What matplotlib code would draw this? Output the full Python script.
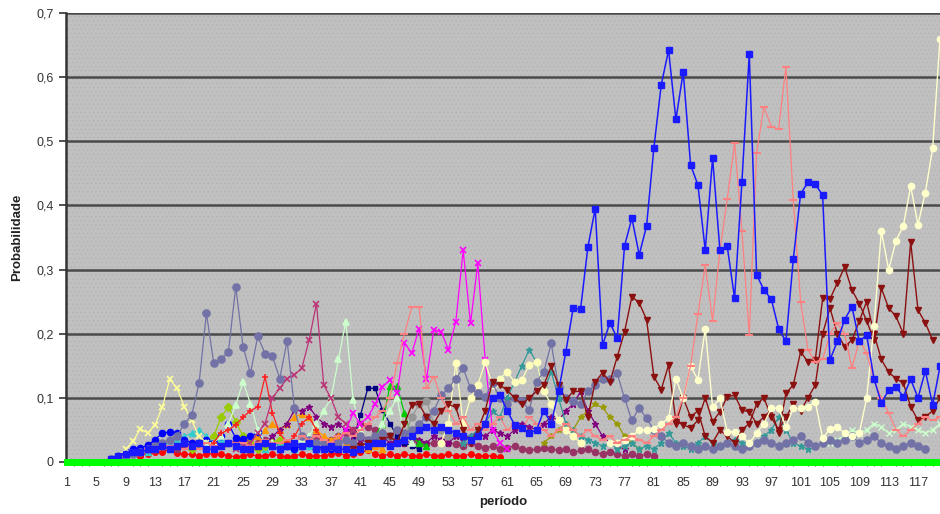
import numpy as np
import matplotlib.pyplot as plt
from matplotlib.patches import Rectangle

plt.rcParams['font.family'] = ['Liberation Sans', 'DejaVu Sans']
plt.rcParams['hatch.linewidth'] = 0.4

# x categories (periods) and tick labels
periodos = np.arange(1, 121)
ticks_x = list(range(1, 118, 4))
ticks_y = [0, 0.1, 0.2, 0.3, 0.4, 0.5, 0.6, 0.7]
rotulos_y = ['0', '0,1', '0,2', '0,3', '0,4', '0,5', '0,6', '0,7']

# each series: first period + values from there on
azul_ini = 7
azul = [0.005, 0.01, 0.012, 0.015, 0.015, 0.02, 0.02, 0.025, 0.02, 0.025, 0.03, 0.025, 0.03, 0.02,
        0.02, 0.025, 0.03, 0.025, 0.02, 0.02, 0.025, 0.03, 0.025, 0.02, 0.025, 0.03, 0.025, 0.03,
        0.02, 0.02, 0.025, 0.02, 0.02, 0.015, 0.02, 0.025, 0.03, 0.03, 0.025, 0.03, 0.035, 0.04,
        0.05, 0.055, 0.05, 0.055, 0.05, 0.045, 0.04, 0.035,
        0.04, 0.06, 0.10, 0.105, 0.08, 0.058, 0.053, 0.045, 0.05, 0.08, 0.06, 0.11, 0.172, 0.24,
        0.238, 0.335, 0.395, 0.182, 0.217, 0.193, 0.337, 0.38, 0.323, 0.368, 0.49, 0.588, 0.642,
        0.534, 0.608, 0.463, 0.432, 0.33, 0.474, 0.33, 0.336, 0.255, 0.437, 0.636, 0.292, 0.268,
        0.254, 0.208, 0.188, 0.316, 0.418, 0.436, 0.433, 0.416, 0.159, 0.188, 0.222, 0.242, 0.188,
        0.198, 0.13, 0.092, 0.112, 0.117, 0.102, 0.129, 0.10, 0.142, 0.089, 0.149]

salmao_ini = 7
salmao = [0.005, 0.008, 0.01, 0.012, 0.015, 0.02, 0.018, 0.02, 0.025, 0.02, 0.02, 0.025, 0.02,
          0.03, 0.025, 0.02, 0.025, 0.03, 0.03, 0.025, 0.03, 0.035, 0.03, 0.03, 0.035, 0.03, 0.04,
          0.035, 0.04, 0.035, 0.03, 0.04, 0.045, 0.04, 0.05, 0.06, 0.07, 0.08, 0.10, 0.154, 0.2,
          0.242, 0.242, 0.115, 0.133, 0.10, 0.08, 0.06, 0.07, 0.05, 0.06, 0.05, 0.06, 0.07, 0.05,
          0.06, 0.05, 0.07, 0.06, 0.05, 0.04, 0.05, 0.06, 0.05, 0.04, 0.05, 0.04, 0.035, 0.04,
          0.03, 0.035, 0.04, 0.035, 0.03, 0.04, 0.05,
          0.06, 0.07, 0.10, 0.15, 0.23, 0.307, 0.22, 0.33, 0.41, 0.498, 0.36, 0.198, 0.482, 0.554,
          0.523, 0.519, 0.616, 0.408, 0.25, 0.175, 0.156, 0.16, 0.2, 0.216, 0.2, 0.146, 0.19, 0.17,
          0.128, 0.10, 0.076, 0.05, 0.04, 0.05, 0.06, 0.07, 0.065, 0.07]

vinho_ini = 40
vinho = [0.02, 0.025, 0.03, 0.03, 0.035, 0.04, 0.03, 0.06, 0.089, 0.09, 0.07, 0.06, 0.08, 0.09,
         0.085, 0.05, 0.03, 0.05, 0.08, 0.125, 0.12, 0.112, 0.10, 0.09, 0.10, 0.11, 0.12, 0.149,
         0.12, 0.097, 0.11, 0.11, 0.07, 0.125, 0.139, 0.125, 0.164, 0.203, 0.258, 0.248, 0.222,
         0.133, 0.113, 0.151, 0.063, 0.058, 0.053, 0.065, 0.10, 0.063, 0.078, 0.102, 0.104, 0.081,
         0.078, 0.06, 0.07, 0.081, 0.045, 0.107, 0.12, 0.172, 0.156, 0.159, 0.255, 0.254, 0.279,
         0.304, 0.268, 0.247, 0.22, 0.19, 0.271, 0.24, 0.227, 0.20, 0.343, 0.237, 0.217, 0.19]

vinho2_ini = 84
vinho2 = [0.06, 0.10, 0.07, 0.08, 0.04, 0.03, 0.05, 0.04, 0.03, 0.05, 0.06, 0.09, 0.10, 0.07,
          0.05, 0.07, 0.09, 0.08, 0.10, 0.12, 0.2, 0.24, 0.2, 0.18, 0.19, 0.22, 0.25, 0.2, 0.16,
          0.14, 0.13, 0.123, 0.086, 0.065, 0.07, 0.08, 0.1]

creme_ini = 75
creme = [0.03, 0.03, 0.035, 0.04, 0.05, 0.05, 0.052, 0.06, 0.068, 0.13, 0.099, 0.15, 0.128, 0.208,
         0.086, 0.099, 0.047, 0.047, 0.04, 0.029, 0.045, 0.06, 0.084, 0.084, 0.055, 0.084, 0.084,
         0.086, 0.094, 0.037, 0.052, 0.055, 0.045, 0.04, 0.045, 0.10, 0.212, 0.36, 0.30, 0.345,
         0.368, 0.43, 0.37, 0.42, 0.489, 0.66]

creme2_ini = 52
creme2 = [0.03, 0.06, 0.155, 0.06, 0.10, 0.12, 0.156, 0.12, 0.13, 0.14, 0.125, 0.128, 0.151,
          0.156, 0.11, 0.09, 0.065, 0.05, 0.04, 0.03]

ardosia_ini = 7
ardosia = [0.005, 0.008, 0.01, 0.012, 0.015, 0.02, 0.025, 0.03, 0.035, 0.04, 0.06, 0.073, 0.123,
           0.232, 0.154, 0.16, 0.172, 0.273, 0.18, 0.138, 0.196, 0.169, 0.165, 0.13, 0.189, 0.084,
           0.04, 0.035, 0.03, 0.03, 0.025, 0.03, 0.035, 0.03, 0.04, 0.035, 0.04, 0.045, 0.04, 0.05,
           0.045, 0.05, 0.06, 0.07, 0.08, 0.104, 0.115, 0.13, 0.146, 0.115, 0.107, 0.102, 0.123,
           0.10, 0.09, 0.10, 0.095, 0.081, 0.125, 0.141, 0.185, 0.117, 0.10, 0.095, 0.091, 0.11,
           0.12, 0.13, 0.13, 0.138, 0.099, 0.065, 0.084, 0.068, 0.05, 0.04, 0.03, 0.025, 0.03,
           0.025, 0.02, 0.025, 0.02, 0.025, 0.03, 0.025, 0.02, 0.025, 0.03, 0.035, 0.03, 0.025,
           0.03, 0.035, 0.04, 0.03, 0.025, 0.03, 0.035, 0.03, 0.035, 0.04, 0.03, 0.035, 0.04,
           0.03, 0.025, 0.02, 0.025, 0.03, 0.025, 0.02]

magenta_ini = 38
magenta = [0.03, 0.05, 0.076, 0.06, 0.07, 0.09, 0.117, 0.128, 0.107, 0.185, 0.17, 0.208, 0.129,
           0.206, 0.203, 0.175, 0.219, 0.33, 0.216, 0.31, 0.159, 0.05, 0.03, 0.02]

ameixa_ini = 24
ameixa = [0.02, 0.025, 0.03, 0.045, 0.06, 0.10, 0.115, 0.13, 0.136, 0.146, 0.19, 0.247, 0.12,
          0.099, 0.07, 0.06, 0.05, 0.04, 0.035, 0.03]

amarelo_ini = 8
amarelo = [0.01, 0.02, 0.032, 0.052, 0.045, 0.058, 0.086, 0.129, 0.115, 0.086, 0.065, 0.04, 0.03,
           0.025]

verde_claro_ini = 20
verde_claro = [0.03, 0.03, 0.04, 0.06, 0.089, 0.125, 0.091, 0.05, 0.03, 0.03, 0.02, 0.025, 0.03,
               0.035, 0.04, 0.06, 0.08, 0.1, 0.16, 0.219, 0.097, 0.05, 0.03, 0.03, 0.06, 0.08,
               0.1, 0.04, 0.03]

vermelho_ini = 20
vermelho = [0.02, 0.03, 0.045, 0.05, 0.058, 0.07, 0.08, 0.086, 0.133, 0.076, 0.045, 0.03, 0.04,
            0.06, 0.07, 0.05, 0.03, 0.025]

azul_bola_ini = 8
azul_bola = [0.01, 0.015, 0.02, 0.022, 0.026, 0.035, 0.045, 0.047, 0.045, 0.035, 0.03, 0.03,
             0.035, 0.03, 0.04, 0.06, 0.037, 0.036, 0.04, 0.046, 0.03, 0.025, 0.02, 0.025, 0.02,
             0.025, 0.03, 0.02, 0.025, 0.02]

oliva_ini = 18
oliva = [0.02, 0.03, 0.03, 0.04, 0.07, 0.086, 0.063, 0.04, 0.03, 0.02, 0.025, 0.03, 0.035, 0.03]

roxo_ini = 28
roxo = [0.03, 0.04, 0.05, 0.06, 0.081, 0.08, 0.086, 0.07, 0.06, 0.055, 0.06, 0.05, 0.04, 0.035,
        0.03, 0.035, 0.04, 0.03, 0.035, 0.03, 0.04, 0.035, 0.03, 0.04, 0.035, 0.03, 0.04, 0.035,
        0.04, 0.045, 0.04, 0.05, 0.045, 0.04, 0.05, 0.06, 0.055, 0.05, 0.06, 0.07, 0.065, 0.08,
        0.09, 0.11, 0.08, 0.06, 0.04, 0.03, 0.025, 0.02]

petroleo_ini = 55
petroleo = [0.03, 0.04, 0.05, 0.06, 0.08, 0.07, 0.1, 0.125, 0.15, 0.175, 0.156, 0.11, 0.141, 0.1,
            0.06, 0.05, 0.04, 0.035, 0.03, 0.025, 0.03, 0.02, 0.025, 0.03, 0.02, 0.025, 0.02,
            0.03, 0.045, 0.03, 0.025, 0.02, 0.03, 0.04, 0.03, 0.025, 0.03, 0.035, 0.03, 0.025,
            0.03, 0.04, 0.05, 0.07, 0.05, 0.03, 0.025, 0.02]

marinho_ini = 40
marinho = [0.03, 0.073, 0.115, 0.115, 0.081, 0.06, 0.04, 0.03, 0.025, 0.02]

verde_ini = 43
verde = [0.04, 0.06, 0.118, 0.118, 0.076, 0.04, 0.03, 0.025]

cinza_ini = 47
cinza = [0.04, 0.07, 0.09, 0.095, 0.06, 0.05, 0.04]

laranja_ini = 25
laranja = [0.02, 0.03, 0.04, 0.05, 0.06, 0.05, 0.06, 0.07, 0.075, 0.07, 0.05, 0.04, 0.035, 0.04,
           0.03, 0.025, 0.03, 0.02, 0.025, 0.02]

ouro_ini = 66
ouro = [0.03, 0.04, 0.05, 0.06, 0.05, 0.07, 0.08, 0.09, 0.085, 0.07, 0.06, 0.04, 0.03, 0.02]

verde_agua_ini = 105
verde_agua = [0.03, 0.035, 0.04, 0.05, 0.045, 0.05, 0.06, 0.055, 0.045, 0.05, 0.06, 0.055, 0.05,
              0.045, 0.05, 0.06]

vermelho_baixo_ini = 8
vermelho_baixo = [0.01, 0.012, 0.015, 0.01, 0.013, 0.015, 0.015, 0.02, 0.014, 0.012, 0.012,
                  0.01, 0.012, 0.013, 0.012, 0.01, 0.008, 0.01, 0.012, 0.009, 0.01, 0.012, 0.01,
                  0.008, 0.01, 0.012, 0.01, 0.009, 0.01, 0.012, 0.014, 0.01, 0.012, 0.015, 0.018,
                  0.012, 0.01, 0.012, 0.01, 0.012, 0.01, 0.009, 0.012, 0.01, 0.01, 0.012, 0.009,
                  0.01, 0.012, 0.01, 0.009, 0.01, 0.008]

ameixa_bola_ini = 10
ameixa_bola = [0.015, 0.02, 0.018, 0.02, 0.025, 0.022, 0.02, 0.025, 0.03, 0.028, 0.025, 0.03,
               0.028, 0.03, 0.032, 0.03, 0.025, 0.03, 0.035, 0.03, 0.028, 0.03, 0.025, 0.03,
               0.035, 0.04, 0.03, 0.035, 0.04, 0.045, 0.05, 0.06, 0.055, 0.05, 0.045, 0.04,
               0.035, 0.03, 0.035, 0.03, 0.028, 0.03, 0.032, 0.03, 0.028, 0.025, 0.03, 0.025,
               0.022, 0.025, 0.02, 0.022, 0.025, 0.02, 0.018, 0.02, 0.022, 0.02, 0.018, 0.02,
               0.015, 0.018, 0.02, 0.015, 0.012, 0.015, 0.012, 0.01, 0.012, 0.01, 0.012, 0.01]

ciano_ini = 12
ciano = [0.015, 0.02, 0.025, 0.03, 0.035, 0.04, 0.045, 0.05, 0.04, 0.03, 0.035, 0.03, 0.025,
         0.03, 0.02, 0.025, 0.02, 0.025, 0.03, 0.025, 0.02, 0.03, 0.025, 0.02]

zeros = [0.0] * len(periodos)


def eixo_x(ini, vals):
    return np.arange(ini, ini + len(vals))


fig = plt.figure(figsize=(9.4, 5.14), dpi=100)
ax = fig.add_axes([66 / 940, 52 / 514, 874 / 940, 449 / 514])
ax.set_facecolor('#c0c0c0')
ax.add_patch(Rectangle((0, 0), 1, 1, transform=ax.transAxes, facecolor='none',
                       edgecolor='#b2b2b2', hatch='....', linewidth=0, zorder=0))

for v in ticks_y[1:]:
    ax.axhline(v, color='#4a4a4a', lw=1.8, zorder=1)

# background series close to zero
fundo = [
    (vermelho_baixo_ini, vermelho_baixo, '#ff0000', 'o', 4),
    (ameixa_bola_ini, ameixa_bola, '#993366', 'o', 4.5),
    (ciano_ini, ciano, '#33cccc', '^', 4),
    (laranja_ini, laranja, '#ff9900', '^', 4),
    (ouro_ini, ouro, '#999900', '*', 4),
    (roxo_ini, roxo, '#800080', '*', 4.5),
    (oliva_ini, oliva, '#99cc00', 'D', 4),
    (azul_bola_ini, azul_bola, '#0000ff', 'o', 4.5),
    (verde_agua_ini, verde_agua, '#ccffcc', 'x', 4),
    (marinho_ini, marinho, '#000080', 's', 3.5),
    (verde_ini, verde, '#00cc00', '^', 4),
    (cinza_ini, cinza, '#969696', 'o', 5),
    (petroleo_ini, petroleo, '#339999', '*', 5),
]
for ini, vals, cor, mk, ms in fundo:
    ax.plot(eixo_x(ini, vals), vals, color=cor, marker=mk, ms=ms, lw=0.9, mew=1, zorder=2)

# mid-level series
medios = [
    (amarelo_ini, amarelo, '#ffff99', 'x', 4),
    (verde_claro_ini, verde_claro, '#ccffcc', '^', 5),
    (vermelho_ini, vermelho, '#ff2020', '+', 4),
    (ameixa_ini, ameixa, '#bb3377', 'x', 4.5),
    (magenta_ini, magenta, '#ff00ff', 'x', 4.5),
    (creme2_ini, creme2, '#ffffbb', 'o', 4.5),
    (ardosia_ini, ardosia, '#7272a6', 'o', 5),
]
for ini, vals, cor, mk, ms in medios:
    ax.plot(eixo_x(ini, vals), vals, color=cor, marker=mk, ms=ms, lw=0.9, mew=1.2, zorder=3)

# main series
ax.plot(eixo_x(vinho2_ini, vinho2), vinho2, color='#8b1010', marker='v', ms=4, lw=1.0, zorder=4)
ax.plot(eixo_x(vinho_ini, vinho), vinho, color='#8b1010', marker='v', ms=4, lw=1.0, zorder=4)
ax.plot(eixo_x(creme_ini, creme), creme, color='#ffffcc', marker='o', ms=4.5, lw=1.0, zorder=4)
ax.plot(eixo_x(salmao_ini, salmao), salmao, color='#ff8080', marker='_', ms=6, mew=1.5,
        lw=0.9, zorder=5)
ax.plot(eixo_x(azul_ini, azul), azul, color='#1a1aff', marker='s', ms=5, lw=1.1, zorder=6)

# series resting at zero
ax.plot(periodos, zeros, color='#00ff00', marker='s', ms=3, lw=5, zorder=7, clip_on=False)

ax.set_xlim(0.86, 119.8)
ax.set_ylim(0, 0.7)
ax.set_xticks(ticks_x)
ax.set_xticks(periodos, minor=True)
ax.set_yticks(ticks_y)
ax.set_yticklabels(rotulos_y)
ax.tick_params(axis='x', which='major', length=0, pad=11, labelsize=9, labelcolor='#333333')
ax.tick_params(axis='x', which='minor', length=3, width=0.8, color='#555555')
ax.tick_params(axis='y', length=5, width=1.2, color='#333333', pad=4, labelsize=9,
               labelcolor='#333333')

for lado in ['top', 'right', 'bottom']:
    ax.spines[lado].set_visible(False)
ax.spines['left'].set_color('#333333')
ax.spines['left'].set_linewidth(1.8)

ax.set_ylabel('Probabilidade', fontsize=9.5, fontweight='bold', color='#222222', labelpad=9)
ax.set_xlabel('período', fontsize=9.5, fontweight='bold', color='#222222', labelpad=5)

fig.savefig('out.png', dpi=100)
